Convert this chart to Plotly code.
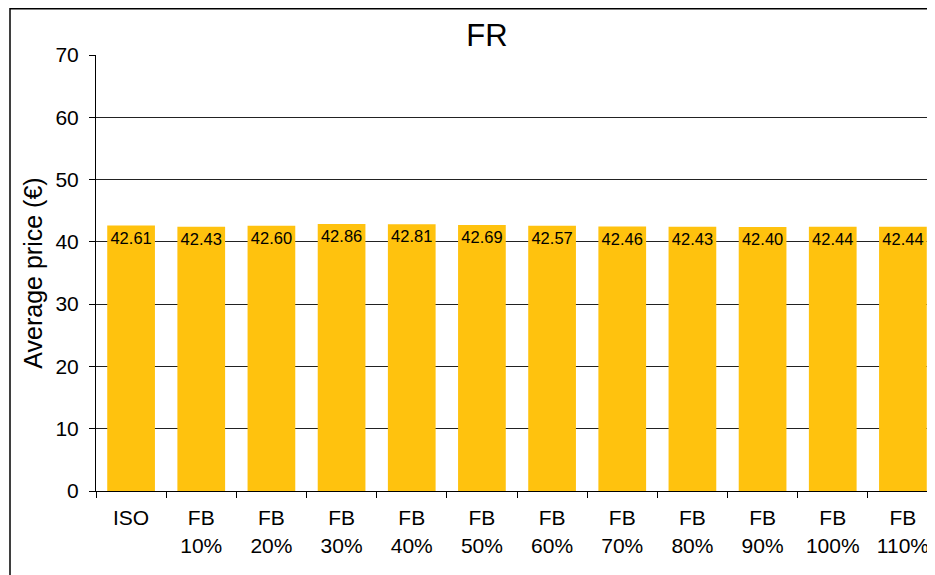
import plotly.graph_objects as go

categories = ["ISO", "FB<br>10%", "FB<br>20%", "FB<br>30%", "FB<br>40%", "FB<br>50%",
              "FB<br>60%", "FB<br>70%", "FB<br>80%", "FB<br>90%", "FB<br>100%", "FB<br>110%"]
avg_price = [42.61, 42.43, 42.60, 42.86, 42.81, 42.69, 42.57, 42.46, 42.43, 42.40, 42.44, 42.44]

W, H = 935, 575
# page body has an 8px margin, so the figure is shifted by that much
L, R, T, B = 88, 5, 47, 92
pw, ph = W - L - R, H - T - B

fig = go.Figure()
fig.add_trace(go.Bar(
    x=categories, y=avg_price,
    marker=dict(color='#FFC20E', line=dict(width=0)),
    width=0.68,
    texttemplate='%{y:.2f}',
    textposition='inside',
    insidetextanchor='end',
    textangle=0,
    constraintext='none',
    textfont=dict(size=16.5, color='black', family='Liberation Sans, Arial'),
    showlegend=False,
))

# outer chart border (left/top edges visible, the rest cropped)
fig.add_shape(type='rect', xref='paper', yref='paper',
              x0=(2 - L) / pw, x1=1.2, y0=-0.5, y1=1 + (T - 0.8) / ph,
              line=dict(color='black', width=1.5), layer='below')

fig.update_layout(
    width=W, height=H,
    margin=dict(l=L, r=R, t=T, b=B),
    paper_bgcolor='white', plot_bgcolor='white',
    font=dict(family='Liberation Sans, Arial', size=21, color='black'),
    title=dict(text='FR', x=479 / W, xanchor='center', y=1 - 27 / H, yanchor='middle',
               font=dict(size=31)),
    bargap=0.32,
    xaxis=dict(
        showline=True, linecolor='black', linewidth=1,
        ticks='outside', tickson='boundaries', ticklen=6, tickcolor='black',
        ticklabelstandoff=8,
        showgrid=False, range=[-0.5, 11.5],
    ),
    yaxis=dict(
        title=dict(text='Average price (€)', font=dict(size=25), standoff=5),
        range=[0, 70], dtick=10,
        showline=True, linecolor='black', linewidth=1,
        ticks='outside', ticklen=6, tickcolor='black',
        ticklabelstandoff=6,
        showgrid=True, gridcolor='#222222', gridwidth=1,
        zeroline=False,
    ),
)

fig.write_html("out.html")
